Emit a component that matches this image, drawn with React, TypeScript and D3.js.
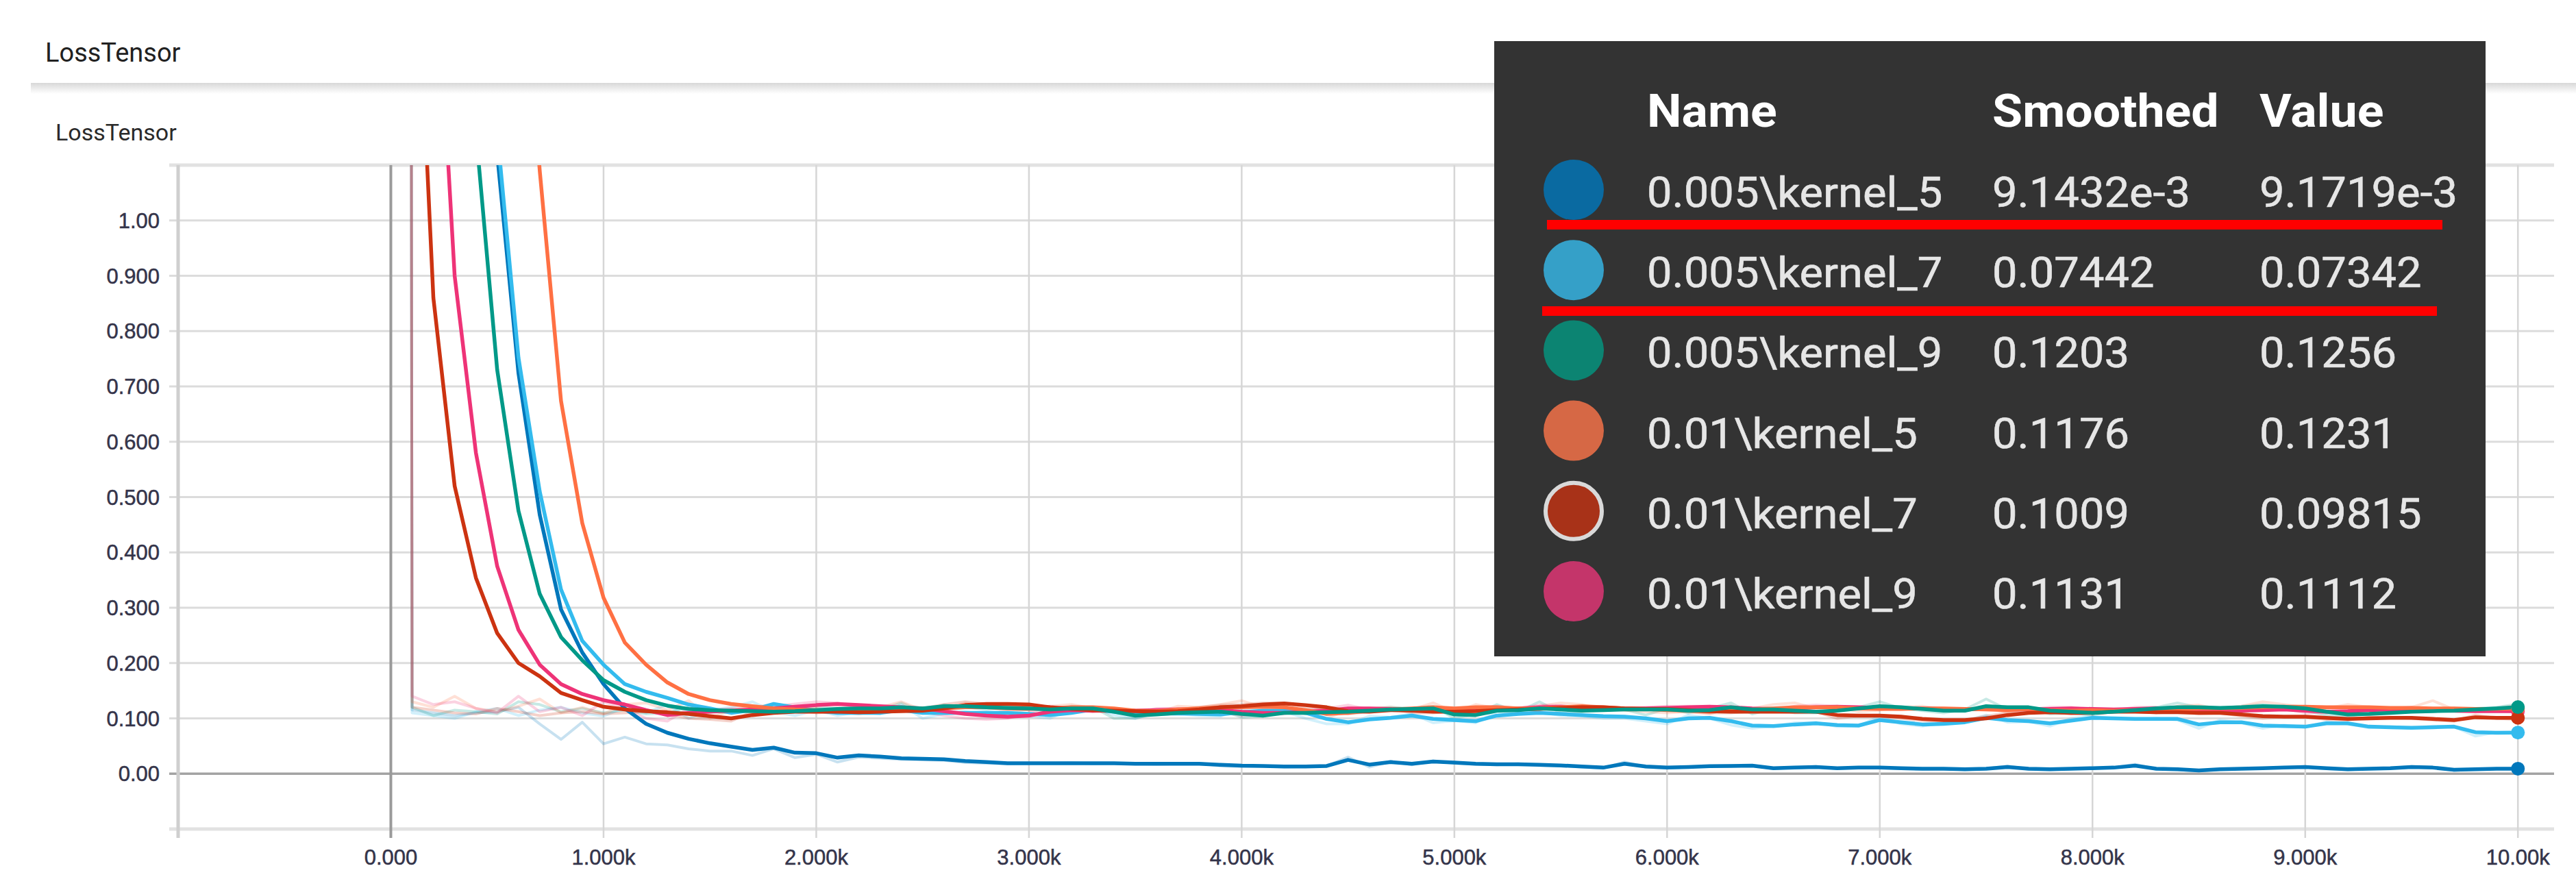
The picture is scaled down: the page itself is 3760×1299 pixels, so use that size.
import React from 'react';
import * as d3 from 'd3';

// ---------- DATA ----------
const STEPS = d3.range(0, 10001, 100); // 101 logged steps

const SERIES_NAMES = [
  '0.005\\kernel_5',
  '0.005\\kernel_7',
  '0.005\\kernel_9',
  '0.01\\kernel_5',
  '0.01\\kernel_7',
  '0.01\\kernel_9',
];
const LINE_COLORS = ['#0077bb', '#33bbee', '#009988', '#ff7043', '#cc3311', '#ee3377'];
const LEGEND_COLORS = ['#0a6aa1', '#35a0c8', '#0c8472', '#d66845', '#a83218', '#c4356a'];
const SMOOTHED_LABELS = ['9.1432e-3', '0.07442', '0.1203', '0.1176', '0.1009', '0.1131'];
const VALUE_LABELS = ['9.1719e-3', '0.07342', '0.1256', '0.1231', '0.09815', '0.1112'];

const Y_TICKS = [0, 0.1, 0.2, 0.3, 0.4, 0.5, 0.6, 0.7, 0.8, 0.9, 1.0];
const Y_TICK_LABELS = ['0.00', '0.100', '0.200', '0.300', '0.400', '0.500', '0.600', '0.700', '0.800', '0.900', '1.00'];
const Y_GRID = [-0.1, 0, 0.1, 0.2, 0.3, 0.4, 0.5, 0.6, 0.7, 0.8, 0.9, 1.0, 1.1];
const X_TICKS = [0, 1000, 2000, 3000, 4000, 5000, 6000, 7000, 8000, 9000, 10000];
const X_TICK_LABELS = ['0.000', '1.000k', '2.000k', '3.000k', '4.000k', '5.000k', '6.000k', '7.000k', '8.000k', '9.000k', '10.00k'];

// smoothed series (step 0, then 10 rows of 10 values per 1k steps)
const SMOOTH_K5_005 = [20,
  7, 4.3, 2.7, 1.75, 1.12, 0.724, 0.468, 0.297, 0.219, 0.162,
  0.118, 0.09, 0.074, 0.063, 0.055, 0.049, 0.043, 0.047, 0.038, 0.037,
  0.029, 0.033, 0.031, 0.028, 0.027, 0.026, 0.023, 0.021, 0.019, 0.019,
  0.019, 0.019, 0.019, 0.019, 0.018, 0.018, 0.018, 0.018, 0.016, 0.0145,
  0.014, 0.013, 0.013, 0.014, 0.025, 0.0165, 0.021, 0.018, 0.022, 0.02,
  0.018, 0.017, 0.017, 0.016, 0.015, 0.013, 0.011, 0.018, 0.013, 0.011,
  0.012, 0.0136, 0.014, 0.0145, 0.01, 0.011, 0.012, 0.01, 0.011, 0.011,
  0.01, 0.009, 0.009, 0.008, 0.009, 0.012, 0.009, 0.008, 0.009, 0.01,
  0.011, 0.0145, 0.009, 0.008, 0.006, 0.008, 0.009, 0.01, 0.011, 0.012,
  0.01, 0.008, 0.009, 0.01, 0.012, 0.011, 0.007, 0.008, 0.009, 0.0091];
const SMOOTH_K7_005 = [20,
  7, 4.4, 2.8, 1.8, 1.16, 0.752, 0.51, 0.333, 0.24, 0.197,
  0.162, 0.148, 0.137, 0.125, 0.118, 0.11, 0.115, 0.126, 0.12, 0.114,
  0.11, 0.11, 0.11, 0.115, 0.11, 0.11, 0.11, 0.11, 0.11, 0.108,
  0.106, 0.11, 0.116, 0.112, 0.107, 0.108, 0.109, 0.108, 0.107, 0.111,
  0.114, 0.114, 0.11, 0.099, 0.093, 0.098, 0.101, 0.105, 0.099, 0.097,
  0.095, 0.105, 0.108, 0.11, 0.108, 0.106, 0.104, 0.103, 0.1, 0.095,
  0.1, 0.101, 0.095, 0.087, 0.086, 0.089, 0.091, 0.088, 0.087, 0.097,
  0.093, 0.089, 0.09, 0.093, 0.101, 0.097, 0.095, 0.091, 0.096, 0.101,
  0.1, 0.099, 0.099, 0.099, 0.089, 0.093, 0.093, 0.087, 0.086, 0.085,
  0.091, 0.091, 0.085, 0.084, 0.083, 0.084, 0.085, 0.075, 0.074, 0.0744];
const SMOOTH_K9_005 = [20,
  6, 3.8, 2.0, 1.16, 0.73, 0.475, 0.325, 0.247, 0.205, 0.169,
  0.148, 0.133, 0.123, 0.117, 0.115, 0.114, 0.113, 0.112, 0.113, 0.115,
  0.117, 0.118, 0.118, 0.12, 0.118, 0.122, 0.122, 0.12, 0.119, 0.118,
  0.116, 0.118, 0.118, 0.112, 0.105, 0.107, 0.11, 0.111, 0.112, 0.108,
  0.105, 0.11, 0.11, 0.111, 0.112, 0.114, 0.116, 0.117, 0.118, 0.107,
  0.106, 0.114, 0.115, 0.118, 0.116, 0.114, 0.115, 0.116, 0.116, 0.116,
  0.114, 0.115, 0.12, 0.116, 0.116, 0.114, 0.112, 0.114, 0.118, 0.122,
  0.12, 0.117, 0.114, 0.114, 0.122, 0.12, 0.12, 0.114, 0.112, 0.11,
  0.112, 0.115, 0.118, 0.12, 0.12, 0.119, 0.12, 0.122, 0.121, 0.118,
  0.112, 0.107, 0.108, 0.11, 0.112, 0.113, 0.114, 0.116, 0.118, 0.1203];
const SMOOTH_K5_01 = [30,
  15, 9, 5.5, 3.4, 2.3, 1.6, 1.09, 0.674, 0.453, 0.318,
  0.237, 0.197, 0.165, 0.144, 0.133, 0.126, 0.122, 0.118, 0.116, 0.115,
  0.114, 0.115, 0.116, 0.118, 0.118, 0.118, 0.12, 0.12, 0.118, 0.117,
  0.118, 0.12, 0.12, 0.118, 0.114, 0.113, 0.116, 0.118, 0.12, 0.12,
  0.121, 0.12, 0.115, 0.108, 0.11, 0.114, 0.116, 0.118, 0.12, 0.118,
  0.12, 0.12, 0.118, 0.118, 0.12, 0.122, 0.12, 0.118, 0.117, 0.115,
  0.114, 0.112, 0.114, 0.116, 0.118, 0.12, 0.12, 0.12, 0.118, 0.117,
  0.117, 0.118, 0.118, 0.117, 0.116, 0.115, 0.117, 0.115, 0.114, 0.115,
  0.114, 0.115, 0.114, 0.116, 0.118, 0.118, 0.119, 0.12, 0.121, 0.121,
  0.12, 0.12, 0.12, 0.119, 0.119, 0.118, 0.118, 0.117, 0.117, 0.1176];
const SMOOTH_K7_01 = [10,
  1.68, 0.86, 0.52, 0.354, 0.254, 0.2, 0.176, 0.146, 0.133, 0.121,
  0.116, 0.113, 0.111, 0.108, 0.104, 0.1, 0.106, 0.11, 0.112, 0.112,
  0.112, 0.111, 0.112, 0.113, 0.114, 0.118, 0.124, 0.126, 0.126, 0.125,
  0.12, 0.117, 0.115, 0.114, 0.113, 0.112, 0.113, 0.116, 0.12, 0.122,
  0.125, 0.127, 0.124, 0.12, 0.113, 0.112, 0.115, 0.114, 0.112, 0.112,
  0.113, 0.115, 0.116, 0.117, 0.119, 0.12, 0.12, 0.118, 0.117, 0.117,
  0.115, 0.113, 0.112, 0.112, 0.112, 0.112, 0.112, 0.106, 0.105, 0.105,
  0.103, 0.099, 0.097, 0.097, 0.1, 0.106, 0.11, 0.111, 0.11, 0.11,
  0.112, 0.112, 0.111, 0.111, 0.11, 0.11, 0.107, 0.104, 0.103, 0.103,
  0.101, 0.099, 0.1, 0.101, 0.101, 0.099, 0.097, 0.102, 0.101, 0.1009];
const SMOOTH_K9_01 = [15,
  3.2, 1.57, 0.9, 0.58, 0.375, 0.26, 0.197, 0.162, 0.144, 0.133,
  0.125, 0.115, 0.106, 0.11, 0.112, 0.114, 0.116, 0.118, 0.121, 0.124,
  0.126, 0.124, 0.122, 0.12, 0.118, 0.113, 0.108, 0.105, 0.103, 0.105,
  0.112, 0.115, 0.114, 0.115, 0.114, 0.115, 0.116, 0.116, 0.115, 0.112,
  0.11, 0.11, 0.112, 0.114, 0.118, 0.118, 0.117, 0.116, 0.116, 0.115,
  0.116, 0.118, 0.118, 0.12, 0.121, 0.12, 0.119, 0.118, 0.118, 0.119,
  0.12, 0.121, 0.12, 0.118, 0.117, 0.118, 0.12, 0.121, 0.12, 0.119,
  0.118, 0.118, 0.117, 0.116, 0.117, 0.116, 0.116, 0.117, 0.118, 0.117,
  0.116, 0.117, 0.118, 0.116, 0.115, 0.114, 0.114, 0.115, 0.116, 0.114,
  0.112, 0.113, 0.115, 0.116, 0.117, 0.116, 0.114, 0.113, 0.113, 0.1131];

// raw (unsmoothed) series
const RAW_K5_005 = [30,
  0.115, 0.11, 0.105, 0.11, 0.112, 0.12, 0.09, 0.062, 0.093, 0.054,
  0.066, 0.054, 0.052, 0.045, 0.041, 0.041, 0.033, 0.045, 0.029, 0.035,
  0.021, 0.03, 0.028, 0.026, 0.025, 0.024, 0.02, 0.019, 0.018, 0.019,
  0.019, 0.02, 0.018, 0.019, 0.018, 0.017, 0.018, 0.019, 0.014, 0.013,
  0.014, 0.012, 0.013, 0.014, 0.03, 0.012, 0.022, 0.016, 0.023, 0.019,
  0.017, 0.016, 0.018, 0.015, 0.014, 0.012, 0.01, 0.021, 0.012, 0.01,
  0.012, 0.014, 0.015, 0.015, 0.009, 0.011, 0.013, 0.009, 0.011, 0.011,
  0.009, 0.008, 0.009, 0.007, 0.009, 0.014, 0.008, 0.007, 0.009, 0.01,
  0.011, 0.017, 0.008, 0.007, 0.005, 0.008, 0.009, 0.01, 0.011, 0.013,
  0.009, 0.007, 0.009, 0.01, 0.013, 0.011, 0.006, 0.008, 0.009, 0.0092];
const RAW_K7_005 = [30,
  0.11, 0.105, 0.1, 0.112, 0.118, 0.105, 0.115, 0.12, 0.11, 0.104,
  0.12, 0.11, 0.125, 0.1, 0.115, 0.12, 0.13, 0.112, 0.105, 0.115,
  0.105, 0.112, 0.108, 0.125, 0.1, 0.108, 0.112, 0.106, 0.111, 0.104,
  0.1, 0.118, 0.12, 0.106, 0.1, 0.11, 0.108, 0.105, 0.104, 0.118,
  0.115, 0.113, 0.1, 0.09, 0.09, 0.104, 0.102, 0.108, 0.092, 0.096,
  0.092, 0.112, 0.11, 0.112, 0.105, 0.104, 0.1, 0.1, 0.095, 0.09,
  0.106, 0.1, 0.088, 0.082, 0.086, 0.092, 0.093, 0.085, 0.086, 0.104,
  0.09, 0.086, 0.092, 0.095, 0.106, 0.093, 0.094, 0.086, 0.1, 0.104,
  0.1, 0.098, 0.1, 0.097, 0.082, 0.097, 0.092, 0.082, 0.088, 0.084,
  0.094, 0.09, 0.083, 0.085, 0.082, 0.086, 0.085, 0.068, 0.075, 0.0734];
const RAW_K9_005 = [30,
  0.12, 0.105, 0.115, 0.112, 0.108, 0.13, 0.125, 0.112, 0.118, 0.11,
  0.115, 0.108, 0.11, 0.12, 0.112, 0.11, 0.115, 0.112, 0.116, 0.12,
  0.118, 0.12, 0.115, 0.128, 0.112, 0.125, 0.12, 0.116, 0.12, 0.118,
  0.112, 0.122, 0.12, 0.1, 0.1, 0.11, 0.114, 0.112, 0.115, 0.102,
  0.104, 0.115, 0.108, 0.112, 0.11, 0.117, 0.12, 0.118, 0.122, 0.1,
  0.108, 0.125, 0.112, 0.13, 0.11, 0.112, 0.118, 0.116, 0.106, 0.118,
  0.11, 0.118, 0.128, 0.108, 0.118, 0.11, 0.11, 0.116, 0.12, 0.13,
  0.118, 0.114, 0.11, 0.116, 0.135, 0.116, 0.12, 0.108, 0.11, 0.106,
  0.114, 0.118, 0.12, 0.128, 0.12, 0.118, 0.122, 0.125, 0.12, 0.114,
  0.106, 0.104, 0.11, 0.112, 0.114, 0.113, 0.116, 0.118, 0.12, 0.1256];
const RAW_K5_01 = [30,
  0.13, 0.12, 0.14, 0.118, 0.112, 0.122, 0.135, 0.11, 0.12, 0.108,
  0.125, 0.128, 0.115, 0.132, 0.1, 0.115, 0.12, 0.125, 0.112, 0.118,
  0.11, 0.122, 0.12, 0.13, 0.115, 0.118, 0.128, 0.122, 0.112, 0.116,
  0.122, 0.125, 0.118, 0.112, 0.108, 0.11, 0.122, 0.12, 0.125, 0.132,
  0.12, 0.118, 0.11, 0.1, 0.115, 0.118, 0.12, 0.116, 0.128, 0.112,
  0.125, 0.118, 0.114, 0.122, 0.128, 0.125, 0.116, 0.115, 0.112, 0.11,
  0.112, 0.108, 0.12, 0.118, 0.125, 0.128, 0.118, 0.122, 0.112, 0.115,
  0.12, 0.122, 0.116, 0.114, 0.12, 0.11, 0.12, 0.11, 0.112, 0.118,
  0.112, 0.118, 0.11, 0.122, 0.124, 0.116, 0.122, 0.13, 0.125, 0.12,
  0.118, 0.125, 0.12, 0.116, 0.12, 0.132, 0.116, 0.114, 0.118, 0.1231];
const RAW_K7_01 = [30,
  0.12, 0.115, 0.11, 0.108, 0.118, 0.112, 0.105, 0.11, 0.112, 0.108,
  0.11, 0.112, 0.108, 0.1, 0.098, 0.095, 0.112, 0.116, 0.115, 0.11,
  0.112, 0.108, 0.115, 0.116, 0.118, 0.125, 0.13, 0.126, 0.124, 0.12,
  0.115, 0.114, 0.112, 0.112, 0.11, 0.11, 0.116, 0.12, 0.124, 0.125,
  0.128, 0.128, 0.12, 0.115, 0.108, 0.112, 0.118, 0.11, 0.11, 0.113,
  0.115, 0.118, 0.117, 0.118, 0.122, 0.12, 0.12, 0.115, 0.116, 0.116,
  0.112, 0.11, 0.11, 0.113, 0.112, 0.111, 0.112, 0.1, 0.104, 0.104,
  0.1, 0.096, 0.095, 0.097, 0.104, 0.11, 0.114, 0.112, 0.108, 0.11,
  0.114, 0.112, 0.11, 0.112, 0.108, 0.11, 0.104, 0.1, 0.103, 0.102,
  0.098, 0.097, 0.102, 0.102, 0.1, 0.097, 0.095, 0.106, 0.1, 0.0982];
const RAW_K9_01 = [30,
  0.14, 0.125, 0.13, 0.118, 0.11, 0.14, 0.112, 0.12, 0.105, 0.13,
  0.118, 0.1, 0.095, 0.118, 0.115, 0.118, 0.12, 0.122, 0.126, 0.13,
  0.128, 0.12, 0.118, 0.116, 0.112, 0.105, 0.1, 0.098, 0.1, 0.11,
  0.122, 0.118, 0.112, 0.118, 0.11, 0.118, 0.118, 0.114, 0.112, 0.105,
  0.108, 0.112, 0.115, 0.118, 0.124, 0.116, 0.114, 0.115, 0.115, 0.112,
  0.12, 0.122, 0.118, 0.124, 0.123, 0.118, 0.118, 0.116, 0.12, 0.122,
  0.122, 0.122, 0.118, 0.115, 0.116, 0.122, 0.124, 0.122, 0.118, 0.117,
  0.116, 0.118, 0.115, 0.114, 0.12, 0.114, 0.116, 0.12, 0.12, 0.115,
  0.114, 0.12, 0.12, 0.112, 0.113, 0.112, 0.114, 0.118, 0.118, 0.11,
  0.11, 0.115, 0.118, 0.118, 0.12, 0.114, 0.112, 0.112, 0.114, 0.1112];

const SMOOTHED = [SMOOTH_K5_005, SMOOTH_K7_005, SMOOTH_K9_005, SMOOTH_K5_01, SMOOTH_K7_01, SMOOTH_K9_01];
const RAW = [RAW_K5_005, RAW_K7_005, RAW_K9_005, RAW_K5_01, RAW_K7_01, RAW_K9_01];
// drawing order of smoothed lines (bottom -> top)
const DRAW_ORDER = [0, 1, 5, 3, 4, 2];

// ---------- LAYOUT ----------
const W = 3760;
const H = 1299;
const PLOT = { left: 260, right: 3728, top: 241, bottom: 1210 };
const COL_X = [2404, 2908, 3298];

export default function App() {
  const x = d3.scaleLinear().domain([-1000, 10170]).range([PLOT.left, PLOT.right]);
  const y = d3.scaleLinear().domain([-0.1, 1.1]).range([PLOT.bottom, PLOT.top]);
  const line = d3
    .line<number>()
    .x((_, i) => x(STEPS[i]))
    .y((d) => y(d));

  const rowY = (i: number) => 277 + i * 117.2;

  const legendText = (tx: number, ty: number, txt: string, key: string) => (
    <text
      key={key}
      transform={`translate(${tx},${ty}) scale(1.05,1)`}
      fontSize={62}
      fill="#e6e6e6"
      stroke="#e6e6e6"
      strokeWidth={0.6}
    >
      {txt}
    </text>
  );

  return (
    <svg
      width={W}
      height={H}
      viewBox={`0 0 ${W} ${H}`}
      style={{ position: 'absolute', left: 0, top: 0, display: 'block', background: '#fff' }}
    >
      <defs>
        <clipPath id="plotClip">
          <rect x={PLOT.left} y={PLOT.top} width={PLOT.right - PLOT.left} height={PLOT.bottom - PLOT.top} />
        </clipPath>
        <linearGradient id="sepGrad" x1="0" y1="0" x2="0" y2="1">
          <stop offset="0" stopColor="#d8d8d8" />
          <stop offset="0.35" stopColor="#e6e6e6" />
          <stop offset="1" stopColor="#ffffff" />
        </linearGradient>
      </defs>

      {/* Card title & separator */}
      <text x={66} y={90} fontFamily="Roboto, sans-serif" fontSize={38} fill="#212121">
        LossTensor
      </text>
      <rect x={45} y={121} width={W - 45} height={16} fill="url(#sepGrad)" />
      <text x={81} y={205} fontFamily="Roboto, sans-serif" fontSize={34} fill="#2a2a2a">
        LossTensor
      </text>

      {/* Horizontal gridlines */}
      {Y_GRID.map((v, i) => {
        const isZero = v === 0;
        const isEdge = i === 0 || i === Y_GRID.length - 1;
        return (
          <line
            key={'hg' + i}
            x1={PLOT.left - 13}
            x2={PLOT.right}
            y1={y(v)}
            y2={y(v)}
            stroke={isZero ? '#a3a3a3' : isEdge ? '#e2e2e2' : '#dcdcdc'}
            strokeWidth={isZero ? 3.5 : isEdge ? 5 : 3}
          />
        );
      })}

      {/* Vertical gridlines */}
      {X_TICKS.map((v, i) => (
        <line
          key={'vg' + i}
          x1={x(v)}
          x2={x(v)}
          y1={PLOT.top}
          y2={PLOT.bottom + 13}
          stroke={v === 0 ? '#9a9a9a' : '#d6d6d6'}
          strokeWidth={v === 0 ? 4 : 2.5}
        />
      ))}
      <line
        x1={PLOT.left}
        x2={PLOT.left}
        y1={PLOT.top}
        y2={PLOT.bottom + 13}
        stroke="#cfcfcf"
        strokeWidth={5}
      />

      {/* Y tick labels */}
      {Y_TICKS.map((v, i) => (
        <text
          key={'yl' + i}
          x={233}
          y={y(v) + 11}
          textAnchor="end"
          fontFamily="'Liberation Sans', Arial, sans-serif"
          fontSize={31}
          fill="#34344a"
          stroke="#34344a"
          strokeWidth={0.5}
        >
          {Y_TICK_LABELS[i]}
        </text>
      ))}

      {/* X tick labels */}
      {X_TICKS.map((v, i) => (
        <text
          key={'xl' + i}
          x={x(v)}
          y={1262}
          textAnchor="middle"
          fontFamily="'Liberation Sans', Arial, sans-serif"
          fontSize={31}
          fill="#34344a"
          stroke="#34344a"
          strokeWidth={0.5}
        >
          {X_TICK_LABELS[i]}
        </text>
      ))}

      {/* Lines */}
      <g clipPath="url(#plotClip)">
        {RAW.map((vals, s) => (
          <path
            key={'raw' + s}
            d={line(vals) || ''}
            fill="none"
            stroke={LINE_COLORS[s]}
            strokeOpacity={0.22}
            strokeWidth={4}
            strokeLinejoin="round"
          />
        ))}
        {DRAW_ORDER.map((s) => (
          <path
            key={'sm' + s}
            d={line(SMOOTHED[s]) || ''}
            fill="none"
            stroke={LINE_COLORS[s]}
            strokeWidth={5.5}
            strokeLinejoin="round"
          />
        ))}
        {DRAW_ORDER.map((s) => {
          const arr = SMOOTHED[s];
          const last = arr.length - 1;
          return (
            <circle
              key={'dot' + s}
              cx={x(STEPS[last])}
              cy={y(arr[last])}
              r={10}
              fill={LINE_COLORS[s]}
            />
          );
        })}
      </g>

      {/* Tooltip legend */}
      <rect x={2181} y={60} width={1447} height={898} fill="#333333" />
      <g fontFamily="Roboto, sans-serif">
        {['Name', 'Smoothed', 'Value'].map((h, k) => (
          <text
            key={'hd' + k}
            transform={`translate(${COL_X[k]},185) scale(1.07,1)`}
            fontSize={67}
            fontWeight={700}
            fill="#ffffff"
          >
            {h}
          </text>
        ))}
        {SERIES_NAMES.map((name, i) => {
          const cy = rowY(i);
          return (
            <g key={'lg' + i}>
              <circle
                cx={2297}
                cy={cy}
                r={i === 4 ? 41 : 44}
                fill={LEGEND_COLORS[i]}
                stroke={i === 4 ? '#d9d9d9' : 'none'}
                strokeWidth={i === 4 ? 6 : 0}
              />
              {legendText(COL_X[0], cy + 25, name, 'n' + i)}
              {legendText(COL_X[1], cy + 25, SMOOTHED_LABELS[i], 's' + i)}
              {legendText(COL_X[2], cy + 25, VALUE_LABELS[i], 'v' + i)}
            </g>
          );
        })}
      </g>
      {/* red annotation underlines */}
      <rect x={2258} y={321} width={1307} height={14} fill="#ff0000" />
      <rect x={2251} y={447} width={1306} height={14} fill="#ff0000" />
    </svg>
  );
}
